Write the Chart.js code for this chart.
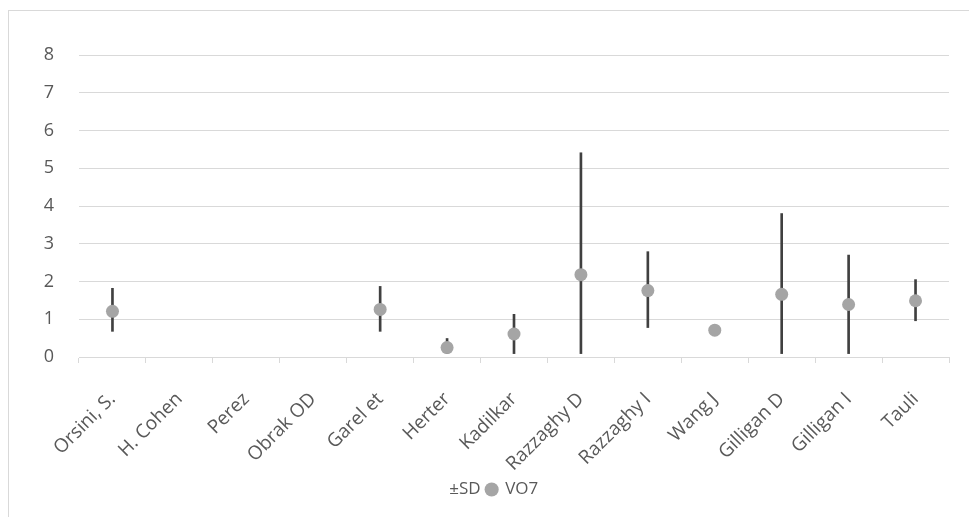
<!DOCTYPE html>
<html>
<head>
<meta charset="utf-8">
<script src="https://cdn.jsdelivr.net/npm/chart.js@4/dist/chart.umd.min.js"></script>
<style>
  html, body { margin: 0; padding: 0; background: #fff; overflow: hidden; }
  #frame { position: absolute; left: 8px; top: 10px; width: 1000px; height: 600px; border: 1px solid #d9d9d9; box-sizing: border-box; }
  #wrap { position: absolute; left: 0; top: 0; width: 969px; height: 517px; }
</style>
</head>
<body>
<div id="frame"></div>
<div id="wrap"><canvas id="c" width="969" height="517"></canvas></div>
<script>
const categories = ["Orsini, S.", "H. Cohen", "Perez", "Obrak OD", "Garel et", "Herter", "Kadilkar", "Razzaghy D", "Razzaghy I", "Wang J", "Gilligan D", "Gilligan I", "Tauli"];
const vo7    = [1.21, null, null, null, 1.26, 0.25, 0.61, 2.18, 1.76, 0.71, 1.66, 1.39, 1.49];
const sdLow  = [0.68, null, null, null, 0.68, 0.09, 0.09, 0.09, 0.78, null, 0.09, 0.09, 0.96];
const sdHigh = [1.82, null, null, null, 1.87, 0.49, 1.13, 5.41, 2.79, null, 3.80, 2.70, 2.05];
const yTicks = [0, 1, 2, 3, 4, 5, 6, 7, 8];

const sdRanges = sdLow.map((lo, i) => (lo === null ? null : [lo, sdHigh[i]]));
const textColor = '#595959';
const gridColor = '#d9d9d9';
const FONT = 'Open Sans';

new Chart(document.getElementById('c'), {
  data: {
    labels: categories,
    datasets: [
      {
        type: 'line',
        label: 'VO7',
        data: vo7,
        showLine: false,
        pointRadius: 6.5,
        pointHoverRadius: 6.5,
        pointBackgroundColor: '#a5a5a5',
        pointBorderWidth: 0,
        borderColor: '#a5a5a5',
        backgroundColor: '#a5a5a5',
        order: 0
      },
      {
        type: 'bar',
        label: '±SD',
        data: sdRanges,
        backgroundColor: '#404040',
        borderWidth: 0,
        barThickness: 2,
        order: 1
      }
    ]
  },
  options: {
    responsive: false,
    animation: false,
    devicePixelRatio: 1,
    layout: { padding: { left: 20, right: 20, top: 55, bottom: 9 } },
    plugins: {
      tooltip: { enabled: false },
      legend: {
        position: 'bottom',
        labels: {
          color: textColor,
          font: { family: FONT, size: 17 },
          usePointStyle: true,
          boxWidth: 10,
          boxHeight: 10,
          padding: 6,
          generateLabels: () => [
            { text: '±SD', fillStyle: 'rgba(0,0,0,0)', strokeStyle: 'rgba(0,0,0,0)', lineWidth: 0, pointStyle: 'circle', fontColor: textColor, datasetIndex: 1 },
            { text: 'VO7', fillStyle: '#a5a5a5', strokeStyle: '#a5a5a5', lineWidth: 0, pointStyle: 'circle', fontColor: textColor, datasetIndex: 0 }
          ]
        }
      }
    },
    scales: {
      x: {
        offset: true,
        afterFit: (s) => { s.height = 118; },
        grid: { offset: true, drawOnChartArea: false, drawTicks: true, tickLength: 6, color: gridColor },
        border: { display: true, color: gridColor, width: 1 },
        ticks: { color: textColor, font: { family: FONT, size: 19 }, minRotation: 45, maxRotation: 45, autoSkip: false, padding: 25 }
      },
      y: {
        min: 0,
        max: 8,
        afterFit: (s) => { s.width = 59; },
        afterBuildTicks: (s) => { s.ticks = yTicks.map(v => ({ value: v })); },
        grid: { color: gridColor, drawTicks: false, lineWidth: 1 },
        border: { display: false },
        ticks: { color: textColor, font: { family: FONT, size: 18 }, padding: 25 }
      }
    }
  }
});
</script>
</body>
</html>
